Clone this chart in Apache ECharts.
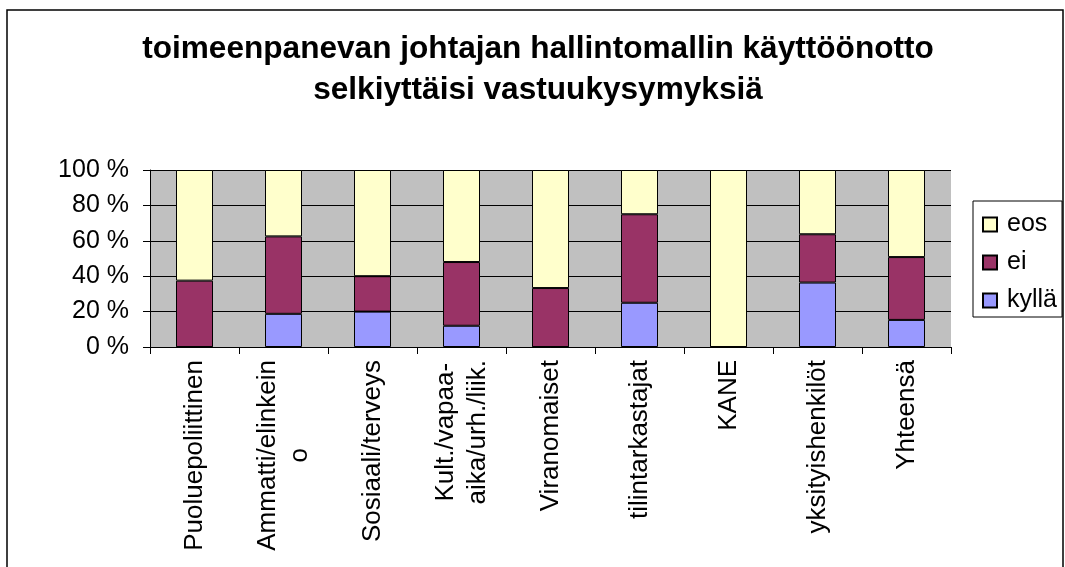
<!DOCTYPE html>
<html>
<head>
<meta charset="utf-8">
<script src="https://cdn.jsdelivr.net/npm/echarts@6/dist/echarts.min.js"></script>
<style>
html,body{margin:0;padding:0;background:#fff;}
#c{width:1065px;height:567px;}
</style>
</head>
<body>
<div id="c"></div>
<script>
var titleLines = ['toimeenpanevan johtajan hallintomallin käyttöönotto', 'selkiyttäisi vastuukysymyksiä'];
var categories = ['Puoluepoliittinen', 'Ammatti/elinkein\no', 'Sosiaali/terveys', 'Kult./vapaa-\naika/urh./liik.', 'Viranomaiset', 'tilintarkastajat', 'KANE', 'yksityishenkilöt', 'Yhteensä'];
var kylla = [0, 18.75, 20, 12, 0, 25, 0, 36.4, 15.3];
var ei = [37.5, 43.75, 20, 36, 33.3, 50, 0, 27.3, 35.5];
var eos = [62.5, 37.5, 60, 52, 66.7, 25, 100, 36.3, 49.2];
var yTicks = [0, 20, 40, 60, 80, 100];

var FONT = 'Liberation Sans, Arial, sans-serif';
var chart = echarts.init(document.getElementById('c'), null, {renderer: 'canvas'});
function barSeries(name, data, color) {
  return {
    name: name, type: 'bar', stack: 'total', data: data, barWidth: 37,
    itemStyle: {color: color, borderColor: '#000', borderWidth: 1}
  };
}
chart.setOption({
  animation: false,
  backgroundColor: '#fff',
  textStyle: {fontFamily: FONT},
  graphic: [{
    type: 'rect', z: 100, silent: true,
    shape: {x: 7, y: 10, width: 1056, height: 600},
    style: {fill: 'none', stroke: '#000', lineWidth: 1.5}
  }],
  title: {
    text: titleLines.join('\n'),
    left: 538, top: 28.5, textAlign: 'center', padding: 0,
    textStyle: {fontFamily: FONT, fontSize: 31.6, fontWeight: 'bold', color: '#000', lineHeight: 41}
  },
  legend: {
    data: ['eos', 'ei', 'kyllä'],
    orient: 'vertical', left: 973, top: 201,
    icon: 'rect', itemWidth: 14, itemHeight: 14, itemGap: 13,
    padding: [11, 5, 4, 9],
    borderColor: '#000', borderWidth: 1, borderRadius: 0,
    textStyle: {fontFamily: FONT, fontSize: 25, color: '#000', padding: [0, 0, 0, 5]}
  },
  grid: {left: 150, right: 114, top: 170, bottom: 220, show: true, backgroundColor: '#c0c0c0', borderWidth: 0},
  xAxis: {
    type: 'category', data: categories,
    axisLine: {lineStyle: {color: '#000', width: 1}},
    axisTick: {show: true, length: 7, alignWithLabel: false, lineStyle: {color: '#000'}},
    axisLabel: {
      rotate: 90, margin: 13, interval: 0, color: '#000',
      formatter: function (v) {
        return v.split('\n').map(function (s) { return '{c|' + s + '}'; }).join('\n');
      },
      rich: {c: {fontFamily: FONT, fontSize: 26, lineHeight: 32, align: 'center', color: '#000'}}
    },
    splitLine: {show: false}
  },
  yAxis: {
    type: 'value', min: 0, max: 100, interval: 20,
    axisLine: {show: true, lineStyle: {color: '#000', width: 1}},
    axisTick: {show: true, inside: false, length: 7, lineStyle: {color: '#000'}},
    axisLabel: {
      margin: 21, color: '#000', fontFamily: FONT, fontSize: 25,
      formatter: function (v) { return yTicks.indexOf(v) >= 0 ? v + ' %' : ''; }
    },
    splitLine: {show: true, lineStyle: {color: '#000', width: 1}}
  },
  series: [
    barSeries('kyllä', kylla, '#9999ff'),
    barSeries('ei', ei, '#993366'),
    barSeries('eos', eos, '#ffffcc')
  ]
});
</script>
</body>
</html>
